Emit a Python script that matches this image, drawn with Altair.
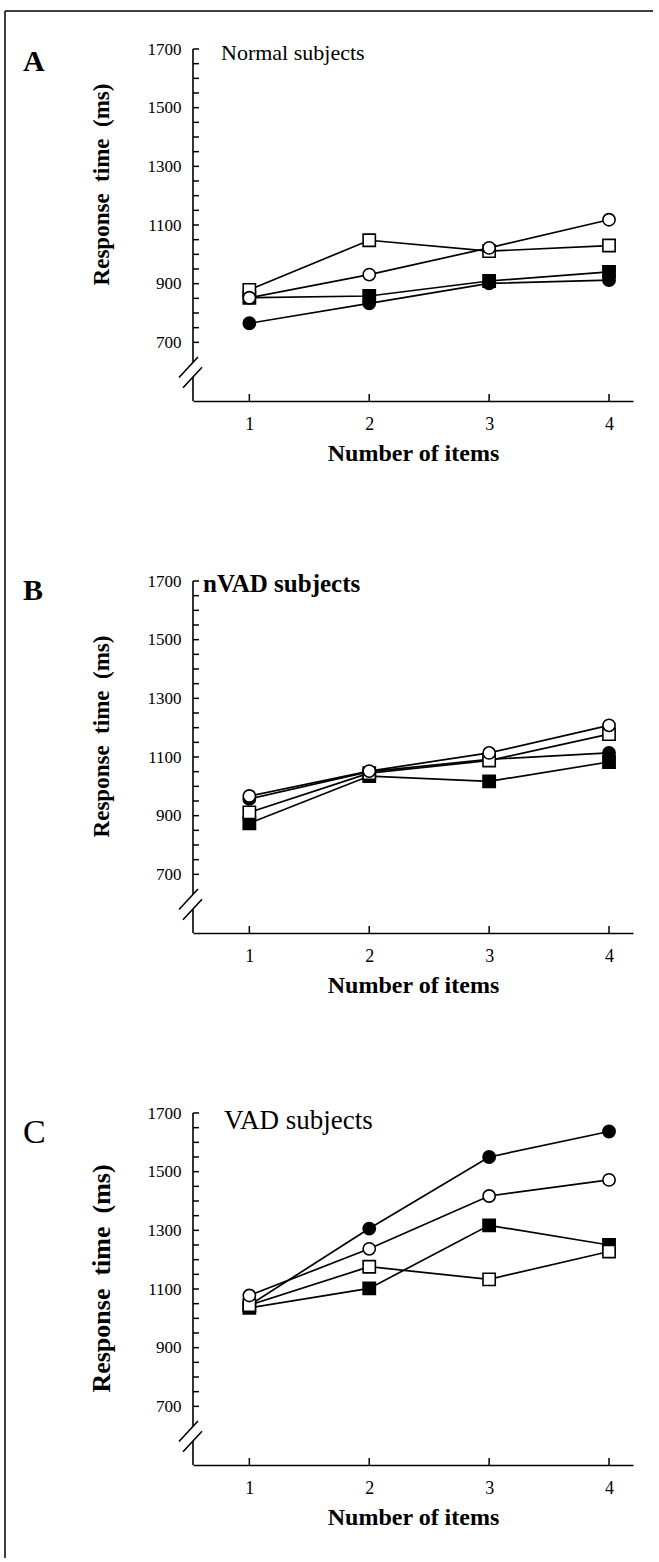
import altair as alt
import pandas as pd

FONT = "Liberation Serif"

items = [1, 2, 3, 4]
series_names = ["filled circle", "filled square", "open square", "open circle"]
series_shapes = ["circle", "square", "square", "circle"]
series_fills = ["black", "black", "white", "white"]

# Panel A - Normal subjects
a_filled_circle = [765, 833, 901, 912]
a_filled_square = [852, 858, 909, 940]
a_open_square = [879, 1048, 1011, 1030]
a_open_circle = [852, 931, 1022, 1118]

# Panel B - nVAD subjects
b_filled_circle = [957, 1050, 1092, 1114]
b_filled_square = [874, 1035, 1017, 1083]
b_open_square = [911, 1045, 1088, 1178]
b_open_circle = [967, 1052, 1114, 1208]

# Panel C - VAD subjects
c_filled_circle = [1045, 1306, 1550, 1637]
c_filled_square = [1036, 1102, 1317, 1250]
c_open_square = [1045, 1176, 1133, 1228]
c_open_circle = [1078, 1237, 1417, 1472]

y_tick_values = list(range(700, 1701, 50))
y_label_values = [700, 900, 1100, 1300, 1500, 1700]
x_label_values = [1, 2, 3, 4]
y_domain = [500, 1700]
x_domain = [0.53, 4.2]
axis_lower = [500, 582]
axis_upper = [632, 1700]

W, H = 440, 352
SPACING = 180
Y_TITLE = "Response\u00a0 time\u00a0 (ms)"


def panel(letter, letter_weight, letter_size, letter_dy, subtitle, sub_weight,
          sub_dx, sub_dy, sub_size, values, title_y, title_size, frame):
    rows = []
    for name, vals in zip(series_names, values):
        for i, v in zip(items, vals):
            rows.append({"items": i, "series": name, "rt": v})
    df = pd.DataFrame(rows)

    xs = alt.Scale(domain=x_domain, nice=False, zero=False)
    ys = alt.Scale(domain=y_domain, nice=False, zero=False)
    x_enc = alt.X(
        "items:Q", scale=xs,
        axis=alt.Axis(values=x_label_values, format="d", ticks=False, grid=False,
                      domain=True, domainColor="black", domainWidth=1.6,
                      labelPadding=14, labelFontSize=18, labelColor="black",
                      labelFont=FONT, title="Number of items", titleFont=FONT,
                      titleFontSize=24, titleFontWeight="bold", titleColor="black",
                      titlePadding=8))
    y_enc = alt.Y(
        "rt:Q", scale=ys,
        axis=alt.Axis(values=y_label_values, format="d", ticks=False, tickSize=0,
                      grid=False, domain=False, labelPadding=12, labelFontSize=17,
                      labelColor="black", labelFont=FONT,
                      title=Y_TITLE, titleFont=FONT, titleFontSize=title_size,
                      titleFontWeight="bold", titleColor="black", titleX=-92,
                      titleY=title_y, titleAngle=270, titleAlign="center",
                      titleBaseline="middle"))

    one = pd.DataFrame({"k": [0]})
    layers = []

    # broken y axis line
    seg = pd.DataFrame({"rt": [axis_lower[0], axis_upper[0]],
                        "rt2": [axis_lower[1], axis_upper[1]]})
    layers.append(alt.Chart(seg).mark_rule(color="black", strokeWidth=1.6).encode(
        x=alt.value(0), y="rt:Q", y2="rt2"))
    layers.append(alt.Chart(one).mark_rule(color="black", strokeWidth=1.6).encode(
        x=alt.value(-10), x2=alt.value(9), y=alt.datum(545), y2=alt.datum(615)))
    layers.append(alt.Chart(one).mark_rule(color="black", strokeWidth=1.6).encode(
        x=alt.value(-14), x2=alt.value(5), y=alt.datum(580), y2=alt.datum(650)))

    # inward ticks
    yt = pd.DataFrame({"rt": y_tick_values})
    layers.append(alt.Chart(yt).mark_rule(color="black", strokeWidth=1.5).encode(
        x=alt.value(0), x2=alt.value(6), y="rt:Q"))
    xt = pd.DataFrame({"items": x_label_values})
    layers.append(alt.Chart(xt).mark_rule(color="black", strokeWidth=1.5).encode(
        x="items:Q", y=alt.value(H), y2=alt.value(H - 7)))

    base = alt.Chart(df)
    layers.append(base.mark_line(color="black", strokeWidth=1.7).encode(
        x=x_enc, y=y_enc, detail="series:N"))
    layers.append(base.mark_point(filled=True, size=150, stroke="black",
                                  strokeWidth=1.6, opacity=1).encode(
        x="items:Q", y="rt:Q",
        shape=alt.Shape("series:N", scale=alt.Scale(domain=series_names,
                                                    range=series_shapes), legend=None),
        fill=alt.Fill("series:N", scale=alt.Scale(domain=series_names,
                                                  range=series_fills), legend=None)))

    # panel letter and subtitle
    layers.append(alt.Chart(one).mark_text(
        text=letter, font=FONT, fontSize=letter_size, fontWeight=letter_weight,
        align="left", baseline="middle", color="black").encode(
        x=alt.value(-170), y=alt.value(letter_dy)))
    layers.append(alt.Chart(one).mark_text(
        text=subtitle, font=FONT, fontSize=sub_size, fontWeight=sub_weight,
        align="left", baseline="middle", color="black").encode(
        x=alt.value(sub_dx), y=alt.value(sub_dy)))

    # figure frame (left and top edges), drawn once in the first panel
    if frame:
        bottom = 2 * (H + SPACING) + 445
        layers.append(alt.Chart(one).mark_rule(color="black", strokeWidth=1.5).encode(
            x=alt.value(-188), y=alt.value(-38), y2=alt.value(bottom)))
        layers.append(alt.Chart(one).mark_rule(color="black", strokeWidth=1.5).encode(
            x=alt.value(-188), x2=alt.value(460), y=alt.value(-38)))

    return alt.layer(*layers).properties(width=W, height=H)


pA = panel("A", "bold", 30, 13, "Normal subjects", "normal", 28, 4, 22,
           [a_filled_circle, a_filled_square, a_open_square, a_open_circle],
           135, 23, True)
pB = panel("B", "bold", 30, 10, "nVAD subjects", "bold", 10, 3, 25,
           [b_filled_circle, b_filled_square, b_open_square, b_open_circle],
           155, 23, False)
pC = panel("C", "normal", 34, 20, "VAD subjects", "normal", 31, 8, 27,
           [c_filled_circle, c_filled_square, c_open_square, c_open_circle],
           165, 26, False)

chart = alt.vconcat(pA, pB, pC, spacing=SPACING, bounds="flush").properties(
    padding={"left": 4, "top": 10, "right": 0, "bottom": 0}
).configure(font=FONT, background="white").configure_view(stroke=None)

chart.save("out.html", embed_options={"renderer": "svg", "actions": False})
